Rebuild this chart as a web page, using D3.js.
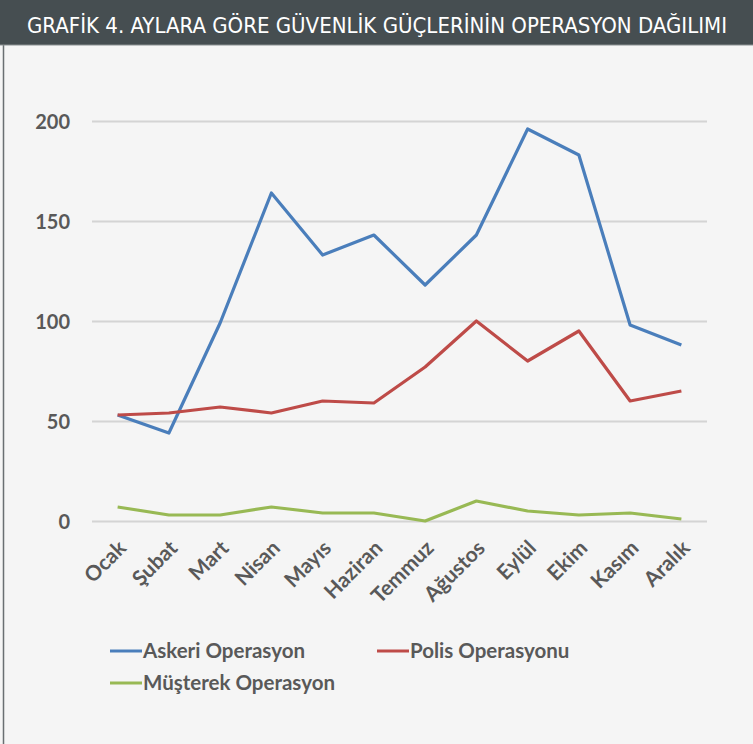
<!DOCTYPE html>
<html>
<head>
<meta charset="utf-8">
<style>
  body { margin: 0; background: #f5f5f5; }
  svg { display: block; }
  .tick text { font-family: Lato, "Open Sans", sans-serif; font-weight: bold; fill: #595959; }
</style>
</head>
<body>
<svg width="753" height="744"></svg>
<script src="https://cdnjs.cloudflare.com/ajax/libs/d3/7.8.5/d3.min.js"></script>
<script>
// monthly counts
var months = ["Ocak", "Şubat", "Mart", "Nisan", "Mayıs", "Haziran",
              "Temmuz", "Ağustos", "Eylül", "Ekim", "Kasım", "Aralık"];
var askeri   = [53, 44, 99, 164, 133, 143, 118, 143, 196, 183, 98, 88];
var polis    = [53, 54, 57, 54, 60, 59, 77, 100, 80, 95, 60, 65];
var musterek = [7, 3, 3, 7, 4, 4, 0, 10, 5, 3, 4, 1];
var yTicks = [0, 50, 100, 150, 200];

var series = [
  { name: "Askeri Operasyon",   values: askeri,   color: "#4a7ebb" },
  { name: "Polis Operasyonu",   values: polis,    color: "#be4b48" },
  { name: "Müşterek Operasyon", values: musterek, color: "#98b954" }
];

var svg = d3.select("svg"),
    width = +svg.attr("width"),
    height = +svg.attr("height");

// background + frame
svg.append("rect").attr("width", width).attr("height", height).attr("fill", "#f5f5f5");
svg.append("line")
    .attr("x1", 3.5).attr("x2", 3.5).attr("y1", 45).attr("y2", height)
    .attr("stroke", "#6a6f72").attr("stroke-width", 1.5);

// title bar
svg.append("rect").attr("width", width).attr("height", 45).attr("fill", "#464e51");
svg.append("line").attr("x1", 0).attr("x2", width).attr("y1", 45).attr("y2", 45)
    .attr("stroke", "#8a9092").attr("stroke-width", 1);
svg.append("text")
    .attr("x", 377).attr("y", 33)
    .attr("text-anchor", "middle")
    .attr("fill", "#ffffff")
    .attr("font-family", "'DejaVu Sans Condensed', 'DejaVu Sans', sans-serif")
    .style("font-stretch", "condensed")
    .attr("font-size", 22)
    .attr("textLength", 700)
    .attr("lengthAdjust", "spacingAndGlyphs")
    .text("GRAFİK 4. AYLARA GÖRE GÜVENLİK GÜÇLERİNİN OPERASYON DAĞILIMI");

var x = d3.scalePoint()
    .domain(months)
    .range([92, 707])
    .padding(0.5);

var y = d3.scaleLinear()
    .domain([0, 200])
    .range([521, 121]);

// y axis with gridlines
var yAxis = svg.append("g")
    .attr("transform", "translate(92,0)")
    .call(d3.axisLeft(y).tickValues(yTicks).tickSize(-615).tickPadding(22));
yAxis.select(".domain").remove();
yAxis.selectAll(".tick line").attr("stroke", "#d4d4d4").attr("stroke-width", 2);
yAxis.selectAll(".tick text").attr("font-size", 20).attr("dy", "0.35em");

// x axis labels, rotated
var xAxis = svg.append("g")
    .attr("transform", "translate(0,521)")
    .call(d3.axisBottom(x).tickSize(0));
xAxis.select(".domain").remove();
xAxis.selectAll(".tick text")
    .attr("font-size", 21)
    .attr("text-anchor", "end")
    .attr("transform", "translate(-1,18) rotate(-45)")
    .attr("dy", "0.7em")
    .attr("y", 0);

var line = d3.line()
    .x(function(d, i) { return x(months[i]); })
    .y(function(d) { return y(d); });

svg.selectAll(".series")
  .data(series)
  .enter().append("path")
    .attr("class", "series")
    .attr("fill", "none")
    .attr("stroke", function(d) { return d.color; })
    .attr("stroke-width", 3.2)
    .attr("stroke-linejoin", "round")
    .attr("d", function(d) { return line(d.values); });

// legend
var legendPos = [[110, 651], [377, 651], [110, 683]];
var legend = svg.selectAll(".legend")
  .data(series)
  .enter().append("g")
    .attr("class", "legend")
    .attr("transform", function(d, i) { return "translate(" + legendPos[i][0] + "," + legendPos[i][1] + ")"; });

legend.append("line")
    .attr("x1", 0).attr("x2", 32)
    .attr("stroke", function(d) { return d.color; })
    .attr("stroke-width", 3);

legend.append("text")
    .attr("x", 33)
    .attr("dy", "0.35em")
    .attr("font-family", "Lato, 'Open Sans', sans-serif")
    .attr("font-weight", "bold")
    .attr("font-size", 20.5)
    .attr("fill", "#595959")
    .text(function(d) { return d.name; });
</script>
</body>
</html>
